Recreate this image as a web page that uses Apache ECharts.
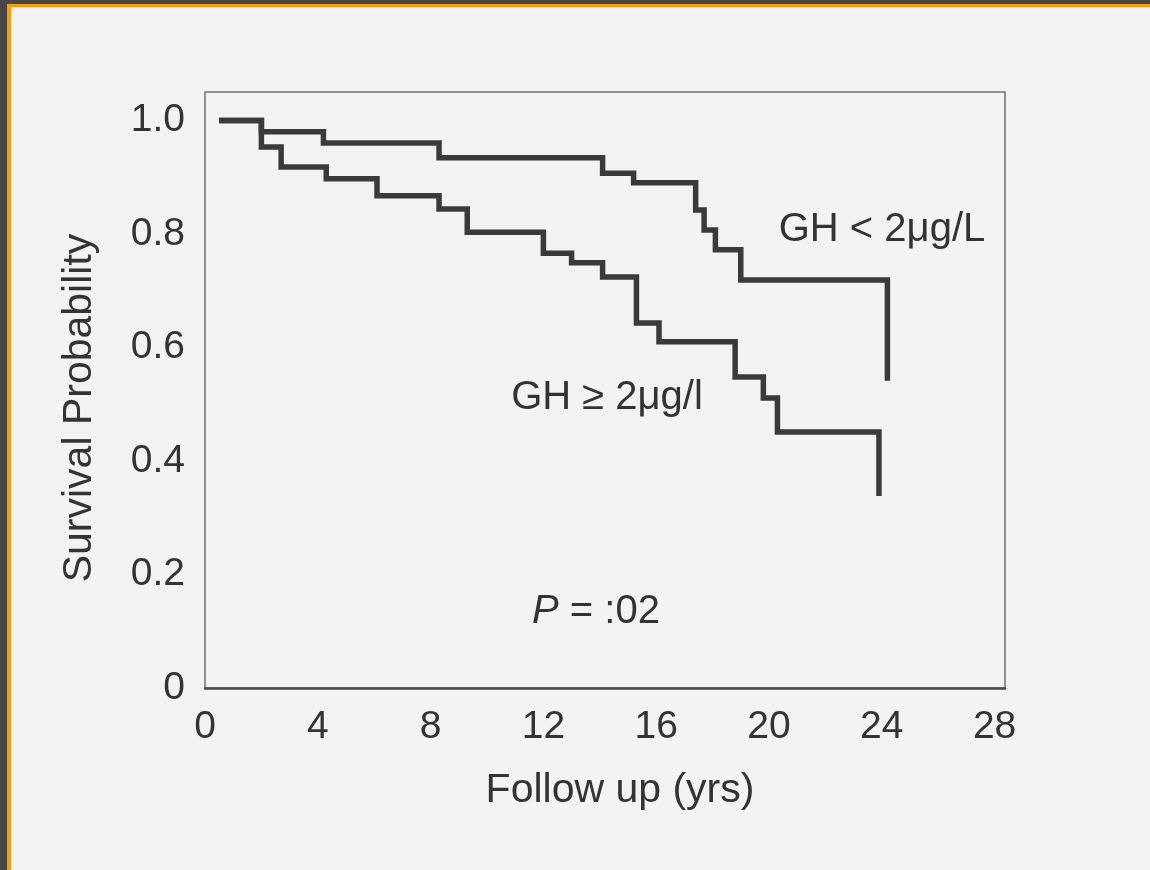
<!DOCTYPE html>
<html>
<head>
<meta charset="utf-8">
<title>Survival by GH level</title>
<script src="https://cdn.jsdelivr.net/npm/echarts@6/dist/echarts.min.js"></script>
<style>
  html, body { margin: 0; padding: 0; background: #474747; }
  #chart { position: absolute; left: 0; top: 0; width: 1150px; height: 870px; }
</style>
</head>
<body>
<div id="chart"></div>
<script>
// Kaplan-Meier survival estimates (years of follow up, survival probability after each event)
const lowGhTimes    = [0.6, 2.0, 4.2, 8.3, 14.1, 15.2, 17.4, 17.7, 18.1, 19.0, 24.2];
const lowGhSurvival = [1.0, 0.980, 0.960, 0.934, 0.907, 0.890, 0.842, 0.807, 0.772, 0.719, 0.546];

const highGhTimes    = [0.6, 2.0, 2.7, 4.3, 6.1, 8.3, 9.3, 12.0, 13.0, 14.1, 15.3, 16.1, 18.8, 19.8, 20.3, 23.9];
const highGhSurvival = [1.0, 0.953, 0.918, 0.897, 0.867, 0.844, 0.803, 0.766, 0.749, 0.724, 0.643, 0.610, 0.548, 0.511, 0.451, 0.343];

// Axis ticks
const xTicks = [0, 4, 8, 12, 16, 20, 24, 28];
const yTicks = [0, 0.2, 0.4, 0.6, 0.8, 1.0];
const yTickLabels = ['0', '0.2', '0.4', '0.6', '0.8', '1.0'];

// Annotations
const lowGhLabel = 'GH < 2\u03BCg/L';
const highGhLabel = 'GH \u2265 2\u03BCg/l';
const pValueText = ':02';

const pairs = (xs, ys) => xs.map((x, i) => [x, ys[i]]);
const near = (v, list) => list.findIndex(t => Math.abs(t - v) < 1e-6);

const FONT = '"Liberation Sans", Arial, Helvetica, sans-serif';
const INK = '#333333';
const LINE = '#3a3a3a';

const chart = echarts.init(document.getElementById('chart'), null, { renderer: 'canvas' });

const curveStyle = { color: LINE, width: 5.5, cap: 'square', join: 'miter' };

chart.setOption({
  backgroundColor: '#f3f3f3',
  animation: false,
  grid: {
    left: 205, top: 92, width: 800, height: 596,
    show: true, borderColor: '#707070', borderWidth: 1.5, backgroundColor: 'transparent'
  },
  xAxis: {
    type: 'value', min: 0, max: 28.37, interval: 4,
    name: 'Follow up (yrs)', nameLocation: 'middle', nameGap: 82,
    nameTextStyle: { fontFamily: FONT, fontSize: 41, color: INK, padding: [0, 0, 0, 30] },
    axisLine: { show: true, onZero: false, lineStyle: { color: '#4a4a4a', width: 2.5 } },
    axisTick: { show: false },
    splitLine: { show: false },
    axisLabel: {
      margin: 20, fontFamily: FONT, fontSize: 39, color: INK,
      formatter: v => (near(v, xTicks) >= 0 ? String(xTicks[near(v, xTicks)]) : '')
    }
  },
  yAxis: {
    type: 'value', min: 0, max: 1.05, interval: 0.2,
    axisLine: { show: false },
    axisTick: { show: false },
    splitLine: { show: false },
    axisLabel: {
      margin: 20, fontFamily: FONT, fontSize: 39, color: INK,
      formatter: v => (near(v, yTicks) >= 0 ? yTickLabels[near(v, yTicks)] : '')
    }
  },
  series: [
    {
      name: lowGhLabel, type: 'line', step: 'end', symbol: 'none',
      data: pairs(lowGhTimes, lowGhSurvival),
      lineStyle: curveStyle
    },
    {
      name: highGhLabel, type: 'line', step: 'end', symbol: 'none',
      data: pairs(highGhTimes, highGhSurvival),
      lineStyle: curveStyle
    }
  ],
  graphic: [
    // frame strips along the top and left edges
    { type: 'rect', left: 0, top: 0, shape: { width: 1150, height: 4 }, style: { fill: '#474747' }, silent: true },
    { type: 'rect', left: 0, top: 0, shape: { width: 7, height: 870 }, style: { fill: '#474747' }, silent: true },
    { type: 'rect', left: 7, top: 4, shape: { width: 1143, height: 3 }, style: { fill: '#ff9c00' }, silent: true },
    { type: 'rect', left: 7, top: 4, shape: { width: 4, height: 866 }, style: { fill: '#ff9c00' }, silent: true },
    {
      type: 'text', x: 80, y: 408, rotation: Math.PI / 2,
      style: { text: 'Survival Probability', fontFamily: FONT, fontSize: 41, fill: INK, align: 'center', verticalAlign: 'middle' }
    },
    {
      type: 'text', x: 882, y: 230,
      style: { text: lowGhLabel, fontFamily: FONT, fontSize: 40, fill: INK, align: 'center', verticalAlign: 'middle' }
    },
    {
      type: 'text', x: 607, y: 398,
      style: { text: highGhLabel, fontFamily: FONT, fontSize: 40, fill: INK, align: 'center', verticalAlign: 'middle' }
    },
    {
      type: 'text', x: 596, y: 612,
      style: {
        text: '{p|P} = ' + pValueText,
        fontFamily: FONT, fontSize: 40, fill: INK, align: 'center', verticalAlign: 'middle',
        rich: { p: { fontFamily: FONT, fontSize: 40, fontStyle: 'italic', fill: INK } }
      }
    }
  ]
});
</script>
</body>
</html>
